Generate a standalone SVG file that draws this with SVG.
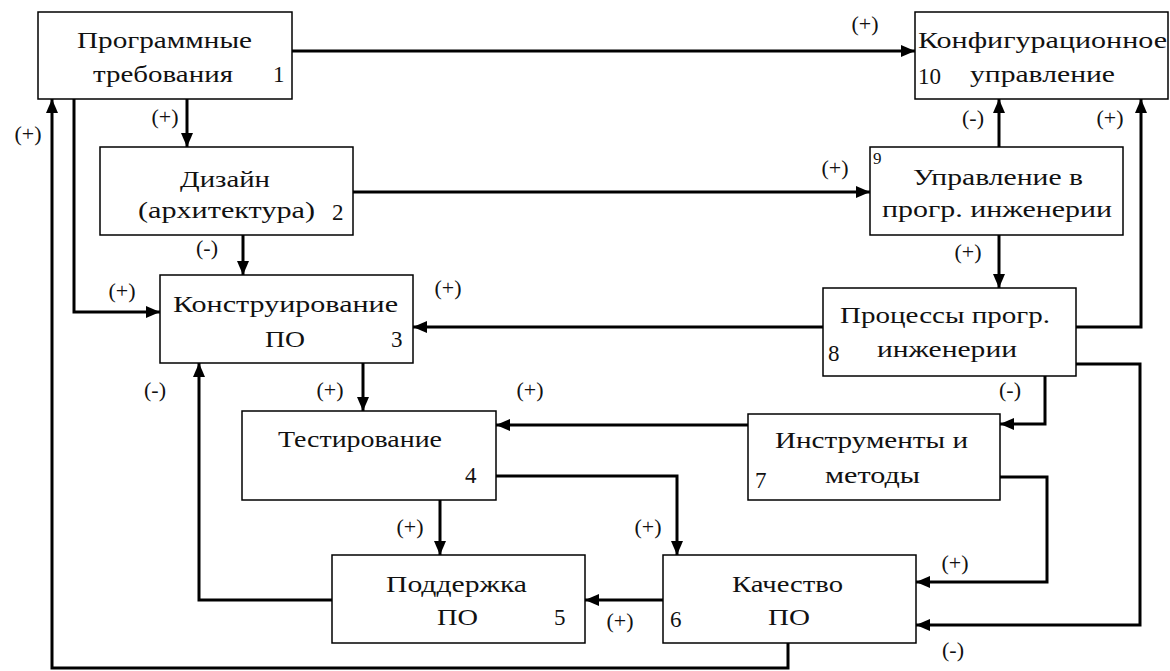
<svg xmlns="http://www.w3.org/2000/svg" width="1170" height="671" viewBox="0 0 1170 671">
<style>
.box{fill:#fff;stroke:#000;stroke-width:1.5}
.t{font-family:"Liberation Serif","Times New Roman",serif;font-size:24px;fill:#111}
.n{font-family:"Liberation Serif","Times New Roman",serif;font-size:23px;fill:#111}
.l{font-family:"Liberation Serif","Times New Roman",serif;font-size:22px;fill:#111;text-anchor:middle}
.c{fill:none;stroke:#000;stroke-width:3;marker-end:url(#ah)}
</style>
<defs>
<marker id="ah" viewBox="0 0 14 12" refX="14" refY="6" markerWidth="14" markerHeight="12" markerUnits="userSpaceOnUse" orient="auto">
<path d="M0,0 L14,6 L0,12 z" fill="#000"/>
</marker>
</defs>
<rect width="1170" height="671" fill="#fff"/>
<g id="connectors">
<path class="c" d="M292,51 H915"/>
<path class="c" d="M187,99 V147"/>
<path class="c" d="M788,643 V668 H52 V99"/>
<path class="c" d="M74,99 V312 H160"/>
<path class="c" d="M243,235 V275"/>
<path class="c" d="M353,192 H870"/>
<path class="c" d="M999,147 V99"/>
<path class="c" d="M1076,327 H1141 V99"/>
<path class="c" d="M999,235 V288"/>
<path class="c" d="M823,327 H413"/>
<path class="c" d="M1045,376 V424 H1000"/>
<path class="c" d="M1076,364 H1140 V625 H916"/>
<path class="c" d="M1000,477 H1047 V582 H916"/>
<path class="c" d="M748,425 H496"/>
<path class="c" d="M363,363 V411"/>
<path class="c" d="M332,600 H199 V363"/>
<path class="c" d="M440,500 V555"/>
<path class="c" d="M496,476 H677 V555"/>
<path class="c" d="M663,600 H585"/>
</g>
<g id="labels">
<text class="l" x="865" y="31">(+)</text>
<text class="l" x="165" y="124">(+)</text>
<text class="l" x="28" y="141">(+)</text>
<text class="l" x="122" y="298">(+)</text>
<text class="l" x="207" y="255">(-)</text>
<text class="l" x="835" y="175">(+)</text>
<text class="l" x="973" y="125">(-)</text>
<text class="l" x="1110" y="125">(+)</text>
<text class="l" x="968" y="259">(+)</text>
<text class="l" x="448" y="295">(+)</text>
<text class="l" x="1010" y="397">(-)</text>
<text class="l" x="953" y="657">(-)</text>
<text class="l" x="955" y="570">(+)</text>
<text class="l" x="530" y="397">(+)</text>
<text class="l" x="330" y="397">(+)</text>
<text class="l" x="155" y="397">(-)</text>
<text class="l" x="410" y="534">(+)</text>
<text class="l" x="648" y="534">(+)</text>
<text class="l" x="620" y="628">(+)</text>
</g>
<g id="node1">
<rect class="box" x="38" y="12" width="254" height="87"/>
<text class="t" x="77" y="48" textLength="175" lengthAdjust="spacingAndGlyphs">Программные</text>
<text class="t" x="93" y="82" textLength="140" lengthAdjust="spacingAndGlyphs">требования</text>
<text class="n" x="273" y="82">1</text>
</g>
<g id="node2">
<rect class="box" x="100" y="147" width="253" height="88"/>
<text class="t" x="180" y="187" textLength="90" lengthAdjust="spacingAndGlyphs">Дизайн</text>
<text class="t" x="138" y="218" textLength="177" lengthAdjust="spacingAndGlyphs">(архитектура)</text>
<text class="n" x="332" y="220">2</text>
</g>
<g id="node10">
<rect class="box" x="915" y="12" width="253" height="87"/>
<text class="t" x="918" y="48" textLength="249" lengthAdjust="spacingAndGlyphs">Конфигурационное</text>
<text class="t" x="970" y="82" textLength="145" lengthAdjust="spacingAndGlyphs">управление</text>
<text class="n" x="918" y="84">10</text>
</g>
<g id="node9">
<rect class="box" x="870" y="147" width="253" height="88"/>
<text class="n" x="873" y="164" style="font-size:17px">9</text>
<text class="t" x="913" y="185" textLength="170" lengthAdjust="spacingAndGlyphs">Управление в</text>
<text class="t" x="882" y="217" textLength="230" lengthAdjust="spacingAndGlyphs">прогр. инженерии</text>
</g>
<g id="node3">
<rect class="box" x="160" y="275" width="253" height="88"/>
<text class="t" x="173" y="312" textLength="225" lengthAdjust="spacingAndGlyphs">Конструирование</text>
<text class="t" x="265" y="347" textLength="40" lengthAdjust="spacingAndGlyphs">ПО</text>
<text class="n" x="391" y="347">3</text>
</g>
<g id="node8">
<rect class="box" x="823" y="288" width="253" height="88"/>
<text class="t" x="840" y="323" textLength="210" lengthAdjust="spacingAndGlyphs">Процессы прогр.</text>
<text class="t" x="877" y="357" textLength="140" lengthAdjust="spacingAndGlyphs">инженерии</text>
<text class="n" x="828" y="361">8</text>
</g>
<g id="node4">
<rect class="box" x="242" y="411" width="254" height="89"/>
<text class="t" x="278" y="447" textLength="164" lengthAdjust="spacingAndGlyphs">Тестирование</text>
<text class="n" x="465" y="483">4</text>
</g>
<g id="node7">
<rect class="box" x="748" y="414" width="252" height="86"/>
<text class="t" x="775" y="448" textLength="193" lengthAdjust="spacingAndGlyphs">Инструменты и</text>
<text class="t" x="825" y="483" textLength="95" lengthAdjust="spacingAndGlyphs">методы</text>
<text class="n" x="755" y="488">7</text>
</g>
<g id="node5">
<rect class="box" x="332" y="555" width="253" height="88"/>
<text class="t" x="386" y="592" textLength="141" lengthAdjust="spacingAndGlyphs">Поддержка</text>
<text class="t" x="437" y="625" textLength="41" lengthAdjust="spacingAndGlyphs">ПО</text>
<text class="n" x="554" y="625">5</text>
</g>
<g id="node6">
<rect class="box" x="663" y="555" width="253" height="88"/>
<text class="t" x="732" y="592" textLength="111" lengthAdjust="spacingAndGlyphs">Качество</text>
<text class="t" x="768" y="625" textLength="42" lengthAdjust="spacingAndGlyphs">ПО</text>
<text class="n" x="670" y="627">6</text>
</g>
</svg>
